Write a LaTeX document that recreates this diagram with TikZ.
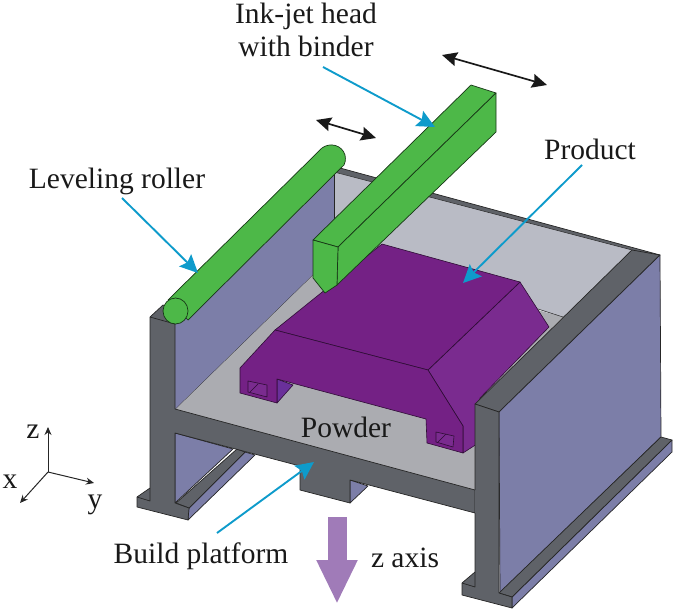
\documentclass[tikz,border=0pt]{standalone}
\usepackage{fontspec}
\setmainfont{Liberation Serif}
\usetikzlibrary{arrows.meta}
\definecolor{fdark}{HTML}{5F6268}
\definecolor{wblue}{HTML}{7C7EA8}
\definecolor{fback}{HTML}{B9BBC5}
\definecolor{ffloor}{HTML}{ABACB1}
\definecolor{pmain}{HTML}{742185}
\definecolor{pside}{HTML}{7A2B8F}
\definecolor{pinner}{HTML}{6A309A}
\definecolor{grn}{HTML}{4DB848}
\definecolor{callout}{HTML}{0E9BCB}
\definecolor{zarrow}{HTML}{A07BB8}
\tikzset{
  x=1pt,y=-1pt,
  edge/.style={draw=black!85,line width=0.7pt,line join=round},
  frame/.style={edge,fill=fdark},
  wall/.style={edge,fill=wblue},
  prod/.style={draw=black!60!pmain,line width=0.6pt,line join=round,fill=pmain},
  head/.style={edge,draw=black!70!grn,fill=grn},
  labeltext/.style={font=\fontsize{29.5}{33}\selectfont,inner sep=0pt,anchor=base,text=black!90},
  callarrow/.style={draw=callout,line width=1.9pt,-{Stealth[length=18pt,width=17pt,inset=3pt]}},
  movearrow/.style={draw=black!90,line width=1.7pt,{Stealth[length=15pt,width=14pt,inset=2pt]}-{Stealth[length=15pt,width=14pt,inset=2pt]}},
  axisarrow/.style={draw=black!85,line width=1pt,-{Stealth[length=8pt,width=7pt]}}
}
\begin{document}
\begin{tikzpicture}
\useasboundingbox (0,0) rectangle (685,615);
% back wall and floor
\fill[fdark] (340,168) -- (660,255) -- (632,252) -- (334,172) -- cycle;
\draw[edge] (340,168) -- (660,255);
\fill[fback] (334,172) -- (632,250) -- (563,318) -- (538,309) -- (334,254) -- cycle;
\fill[ffloor] (334,254) -- (563,317) -- (475,404) -- (475,490) -- (175,409) -- cycle;
\draw[edge] (334,254) -- (175,409);
\draw[edge,line width=0.5pt] (538,309) -- (563,317);
\draw[edge,line width=0.5pt] (334,172) -- (632,250);
% left wall inner
\fill[wblue] (175,324) -- (334,172) -- (334,254) -- (175,409) -- cycle;
\draw[edge] (334,172) -- (334,254);
% left wall below the crossbar
\draw[wall] (175,433) -- (233,449) -- (175,503) -- cycle;
\draw[wall] (189,508) -- (245,452) -- (255,455) -- (188,520) -- cycle;
\draw[frame] (176,503) -- (237,449) -- (245,452) -- (189,508) -- cycle;
% pedestal back
\draw[wall] (350,480) -- (368,486) -- (350,503) -- cycle;
% frame front
\draw[frame] (150,317) -- (163,305) -- (188,312) -- (175,324) -- (175,409)
  -- (475,490) -- (475,513) -- (350,480) -- (350,503) -- (300,490) -- (300,466)
  -- (175,433) -- (175,503) -- (189,508) -- (188,520) -- (137,507) -- (137,497) -- (150,488) -- cycle;
\draw[edge] (137,497) -- (150,501) -- (150,488);
\draw[edge] (150,317) -- (175,324);
% product
\draw[prod,fill=pside] (520,282) -- (549,327) -- (480,398) -- (480,442) -- (463,453) -- (463,426) -- (428,370) -- cycle;
\draw[prod] (382,244) -- (520,282) -- (428,370) -- (275,330) -- cycle;
\draw[prod,fill=pinner] (277,379) -- (293,385) -- (277,403) -- cycle;
\draw[prod] (275,330) -- (428,370) -- (463,426) -- (463,453) -- (427,443) -- (426,419)
  -- (277,379) -- (277,403) -- (240,393) -- (240,368) -- cycle;
\draw[prod,fill=pside] (248,381) -- (267,385) -- (267,397) -- (248,392) -- cycle;
\draw[prod,line width=0.5pt] (250,392) -- (258,384);
\draw[prod,fill=pside] (436,432) -- (454,436) -- (453,447) -- (436,442) -- cycle;
\draw[prod,line width=0.5pt] (438,442) -- (446,434);
% right wall
\draw[frame] (475,404) -- (632,250) -- (660,255) -- (499,412) -- cycle;
\draw[wall] (499,412) -- (660,255) -- (661,437) -- (500,593) -- cycle;
\draw[wall] (512,597) -- (672,440) -- (672,452) -- (512,608) -- cycle;
\draw[frame] (499,593) -- (661,437) -- (672,440) -- (512,597) -- cycle;
\fill[fdark] (475,404) -- (499,412) -- (499,593) -- (512,597) -- (512,608) -- (462,595) -- (462,583) -- (475,572) -- cycle;
\draw[edge] (475,490) -- (475,404) -- (499,412) -- (499,593) -- (512,597) -- (512,608) -- (462,595) -- (462,583) -- (475,572) -- (475,513);
\draw[edge] (462,583) -- (475,587) -- (475,572);
% roller
\draw[head] (168,300) -- (322,148)
  .. controls (330,142) and (342,145) .. (345,155) .. controls (346,160) and (345,163) .. (344,165) -- (188,320) -- cycle;
\draw[head] (175.5,311) ellipse[x radius=12.5,y radius=13];
% ink-jet head
\draw[head] (471,85) -- (496,93) -- (338,247) -- (313,240) -- cycle;
\draw[head] (496,93) -- (496,132) -- (337,285) -- (338,247) -- cycle;
\draw[head] (313,240) -- (338,247) -- (337,285) -- (325,293) -- (313,278) -- cycle;
% labels
\node[labeltext] (inkl) at (306,24) {Ink-jet head};
\node[labeltext] (inkb) at (306,57) {with binder};
\node[labeltext] (level) at (117,188) {Leveling roller};
\node[labeltext] (prodl) at (590,159) {Product};
\node[labeltext] (pow) at (346,437) {Powder};
\node[labeltext] (plat) at (201,563) {Build platform};
\node[labeltext] (zax) at (405,567) {z axis};
\coordinate (inks) at (323,67);   \coordinate (inkc) at (435,127);
\coordinate (levs) at (122,198);  \coordinate (levc) at (198,273);
\coordinate (prods) at (582,165); \coordinate (prodc) at (463,283);
\coordinate (plats) at (217,533); \coordinate (platc) at (314,462);
\draw[callarrow] (inks) -- (inkc);
\draw[callarrow] (levs) -- (levc);
\draw[callarrow] (prods) -- (prodc);
\draw[callarrow] (plats) -- (platc);
% motion arrows
\coordinate (ma) at (316,120); \coordinate (mb) at (376,138);
\coordinate (mc) at (442,55); \coordinate (md) at (547,85);
\draw[movearrow] (ma) -- (mb);
\draw[movearrow] (mc) -- (md);
% z arrow
\coordinate (zt) at (337,517); \coordinate (zb) at (337,604);
\draw[zarrow,line width=19pt,-{Triangle[length=44pt,width=38pt]}] (zt) -- (zb);
% axes
\coordinate (o) at (48,472);
\coordinate (az) at (48,427); \coordinate (ax) at (20,503); \coordinate (ay) at (94,483);
\draw[axisarrow] (o) -- (az);
\draw[axisarrow] (o) -- (ax);
\draw[axisarrow] (o) -- (ay);
\node[labeltext] (lz) at (33,438) {z};
\node[labeltext] (lx) at (10,488) {x};
\node[labeltext] (ly) at (95,508) {y};
\end{tikzpicture}
\end{document}
